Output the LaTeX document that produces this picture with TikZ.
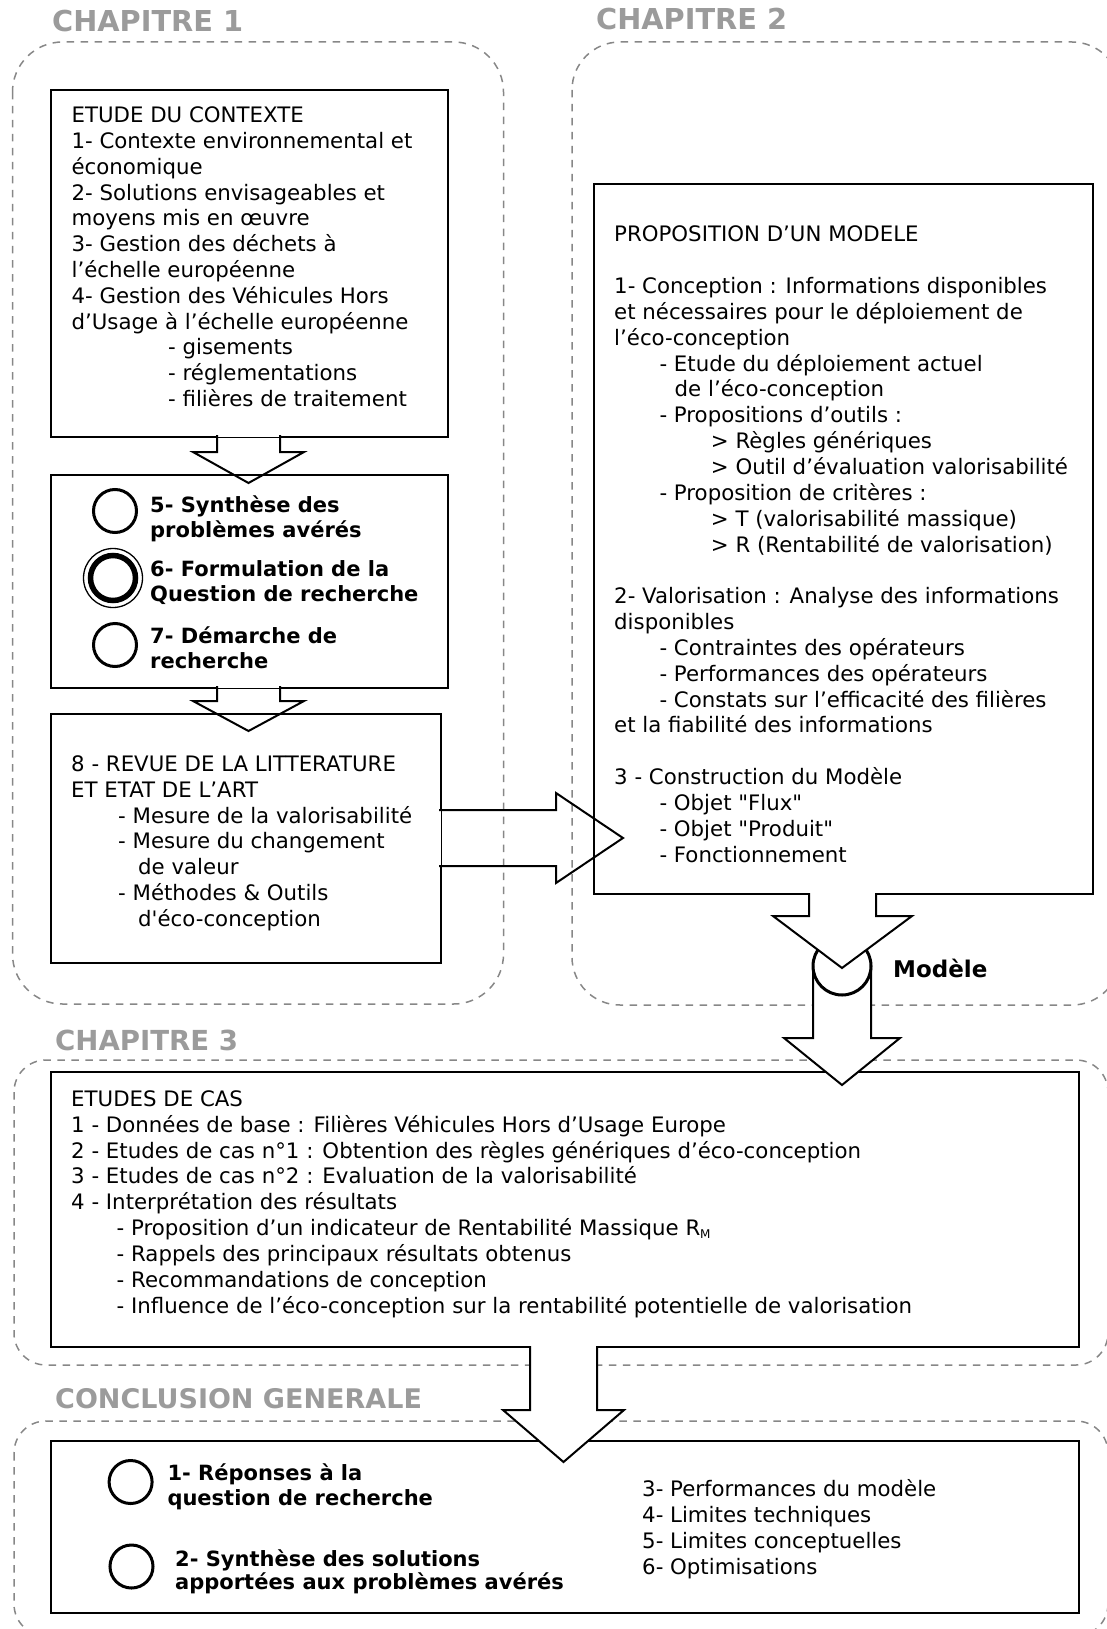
\documentclass[tikz,border=0pt]{standalone}
\usepackage{fontspec}
\setmainfont{DejaVu Sans}[Ligatures=TeXOff]
\definecolor{ttl}{RGB}{155,155,155}
\definecolor{dsh}{RGB}{135,135,135}
\begin{document}
\begin{tikzpicture}[x=1pt,y=-1pt,
  box/.style={draw=black, line width=2pt, inner sep=0pt, anchor=north west},
  blk/.style={draw=black, line width=2pt, line join=miter},
  eraser/.style={draw=white, line width=2.6pt},
  chapbox/.style={draw=dsh, line width=1.5pt, dash pattern=on 7.5pt off 6.5pt, rounded corners=#1},
  title/.style={anchor=base west, inner sep=0pt, text=ttl, font=\fontsize{28.8}{30}\selectfont\bfseries},
  body/.style={anchor=base west, inner sep=0pt, align=left, font=\fontsize{21.3}{25.85}\selectfont},
  bodyb/.style={anchor=base west, inner sep=0pt, align=left, font=\fontsize{21}{#1}\selectfont\bfseries},
  ring/.style={draw=black, line width=3pt},
]
\useasboundingbox (0,0) rectangle (1107,1629);

% chapter frames
\draw[chapbox=50] (12.5,42) rectangle (503.5,1004);
\draw[chapbox=48] (572,42) rectangle (1120,1005);
\draw[chapbox=32] (14,1060) rectangle (1108,1365);
\draw[chapbox=32] (14,1421) rectangle (1108,1636);

% titles
\node[title] (t1) at (52,32) {CHAPITRE 1};
\node[title] (t2) at (596,30) {CHAPITRE 2};
\node[title, font=\fontsize{27.6}{30}\selectfont\bfseries] (t3) at (55,1050) {CHAPITRE 3};
\node[title, font=\fontsize{27}{30}\selectfont\bfseries] (t4) at (55,1408) {CONCLUSION GENERALE};

% boxes
\node[box, minimum width=397pt, minimum height=347pt] (ctx) at (50,89) {};
\node[box, minimum width=397pt, minimum height=213pt] (syn) at (50,474) {};
\node[box, minimum width=390pt, minimum height=249pt] (rev) at (50,713) {};
\node[box, minimum width=499pt, minimum height=710pt] (mod) at (593,183) {};
\node[box, minimum width=1028pt, minimum height=275pt] (cas) at (50,1071) {};
\node[box, minimum width=1028pt, minimum height=172pt] (ccl) at (50,1440) {};

% texts (anchor = baseline of the last line)
\node[body, font=\fontsize{21.3}{25.8}\selectfont] (ctxt) at (71.4,406.5) {ETUDE DU CONTEXTE\\
1- Contexte environnemental et\\
économique\\
2- Solutions envisageables et\\
moyens mis en œuvre\\
3- Gestion des déchets à\\
l’échelle européenne\\
4- Gestion des Véhicules Hors\\
d’Usage à l’échelle européenne\\
\hspace*{96.6pt}- gisements\\
\hspace*{96.6pt}- réglementations\\
\hspace*{96.6pt}- filières de traitement};

\node[bodyb=25] (s5) at (150,537) {5- Synthèse des\\problèmes avérés};
\node[bodyb=25] (s6) at (150,601) {6- Formulation de la\\Question de recherche};
\node[bodyb=25] (s7) at (150,668) {7- Démarche de\\recherche};

\draw[ring] (115,511) circle (21.5);
\draw[draw=black, line width=1.3pt] (113,578) circle (29.5);
\draw[draw=black, line width=5.5pt] (113,578) circle (22.5);
\draw[ring] (115,645) circle (21.5);

\node[body, font=\fontsize{21.3}{25.8}\selectfont] (revt) at (71,926.2) {8 - REVUE DE LA LITTERATURE\\
ET ETAT DE L’ART\\
\hspace*{47pt}- Mesure de la valorisabilité\\
\hspace*{47pt}- Mesure du changement\\
\hspace*{67pt}de valeur\\
\hspace*{47pt}- Méthodes \& Outils\\
\hspace*{67pt}d'éco-conception};

\node[body] (modt) at (614,862.2) {PROPOSITION D’UN MODELE\\[25.85pt]
1- Conception : Informations disponibles\\
et nécessaires pour le déploiement de\\
l’éco-conception\\
\hspace*{45.3pt}- Etude du déploiement actuel\\
\hspace*{60.5pt}de l’éco-conception\\
\hspace*{45.3pt}- Propositions d’outils :\\
\hspace*{96.7pt}> Règles génériques\\
\hspace*{96.7pt}> Outil d’évaluation valorisabilité\\
\hspace*{45.3pt}- Proposition de critères :\\
\hspace*{96.7pt}> T (valorisabilité massique)\\
\hspace*{96.7pt}> R (Rentabilité de valorisation)\\[25.85pt]
2- Valorisation : Analyse des informations\\
disponibles\\
\hspace*{45.3pt}- Contraintes des opérateurs\\
\hspace*{45.3pt}- Performances des opérateurs\\
\hspace*{45.3pt}- Constats sur l’efficacité des filières\\
et la fiabilité des informations\\[25.85pt]
3 - Construction du Modèle\\
\hspace*{45.3pt}- Objet "Flux"\\
\hspace*{45.3pt}- Objet "Produit"\\
\hspace*{45.3pt}- Fonctionnement};

\node[body] (cast) at (71,1313.2) {ETUDES DE CAS\\
1 - Données de base : Filières Véhicules Hors d’Usage Europe\\
2 - Etudes de cas n°1 : Obtention des règles génériques d’éco-conception\\
3 - Etudes de cas n°2 : Evaluation de la valorisabilité\\
4 - Interprétation des résultats\\
\hspace*{45.5pt}- Proposition d’un indicateur de Rentabilité Massique R\raisebox{-2.5pt}{\fontsize{12}{12}\selectfont M}\\
\hspace*{45.5pt}- Rappels des principaux résultats obtenus\\
\hspace*{45.5pt}- Recommandations de conception\\
\hspace*{45.5pt}- Influence de l’éco-conception sur la rentabilité potentielle de valorisation};

\node[bodyb=24.3] (c1) at (167.3,1505) {1- Réponses à la\\question de recherche};
\node[bodyb=23] (c2) at (175,1589) {2- Synthèse des solutions\\apportées aux problèmes avérés};
\node[body, font=\fontsize{21.3}{25.8}\selectfont] (c3) at (642,1574.1) {3- Performances du modèle\\
4- Limites techniques\\
5- Limites conceptuelles\\
6- Optimisations};
\draw[ring] (130.6,1482) circle (21.5);
\draw[ring] (131.5,1566.5) circle (21.5);

% block arrows (open ones)
\draw[eraser] (218.2,436) -- (278.8,436);
\draw[blk] (217,435) -- (217,452) -- (193,452) -- (248.5,483) -- (304,452) -- (280,452) -- (280,435);
\draw[eraser] (218.2,687) -- (278.8,687);
\draw[blk] (217,686) -- (217,701) -- (193,701) -- (248.5,731) -- (304,701) -- (280,701) -- (280,686);
\draw[eraser] (440,811.2) -- (440,864.8);
\draw[blk] (439,810) -- (556,810) -- (556,793) -- (623,838) -- (556,883) -- (556,866) -- (439,866);

% arrow from model to chapter 3 (white filled)
\fill[white] (813,997) -- (813,1038) -- (784,1038) -- (842,1085) -- (900,1038) -- (871,1038) -- (871,997) -- cycle;
\draw[blk] (813,966) -- (813,1038) -- (784,1038) -- (842,1085) -- (900,1038) -- (871,1038) -- (871,966);
\coordinate (mc) at (842,966);
\draw[draw=black, line width=3pt] (mc) circle (29);
\fill[white] (809,891.5) -- (809,916) -- (773,916) -- (842,968) -- (912,916) -- (876,916) -- (876,891.5) -- cycle;
\draw[blk] (809,893) -- (809,916) -- (773,916) -- (842,968) -- (912,916) -- (876,916) -- (876,893);
\node[anchor=base west, inner sep=0pt, font=\fontsize{23}{26}\selectfont\bfseries] (modl) at (893,977) {Modèle};

% arrow chapter 3 -> conclusion (white filled)
\fill[white] (530,1344.5) -- (530,1410) -- (503,1410) -- (563.5,1462) -- (624,1410) -- (597,1410) -- (597,1344.5) -- cycle;
\draw[blk] (530,1346) -- (530,1410) -- (503,1410) -- (563.5,1462) -- (624,1410) -- (597,1410) -- (597,1346);
\end{tikzpicture}
\end{document}
